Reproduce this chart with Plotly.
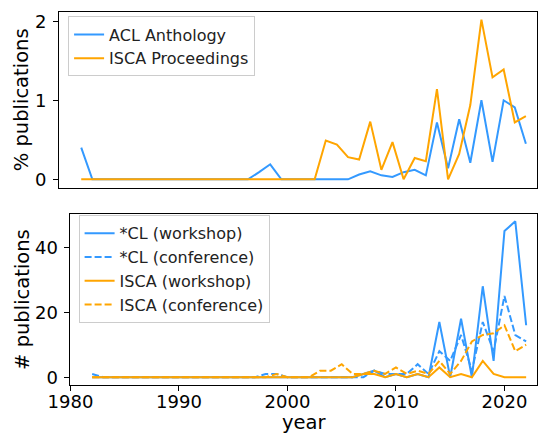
import plotly.graph_objects as go

# ── data ───────────────────────────────────────────────────────
years = list(range(1982, 2023))

# share of publications (%)
acl_pct = [0.40] + [0] * 15 + [0.09, 0.19] + [0] * 7 + [
    0.06, 0.10, 0.05, 0.03, 0.09, 0.12, 0.05, 0.72, 0.14, 0.76,
    0.21, 1.00, 0.22, 1.00, 0.91, 0.45]
isca_pct = [0] * 22 + [
    0.49, 0.44, 0.28, 0.25, 0.73, 0.12, 0.47, 0.0, 0.27, 0.23,
    1.14, 0.0, 0.32, 0.94, 2.02, 1.29, 1.39, 0.72, 0.80]

# number of publications
cl_workshop = [0] * 25 + [1, 2, 0, 1, 0, 1, 0, 17, 0, 18, 0, 28, 5, 45, 48, 16]
cl_conference = [1] + [0] * 15 + [1, 1] + [0] * 8 + [
    2, 1, 1, 1, 4, 1, 8, 5, 13, 2, 17, 8, 25, 13, 11]
isca_workshop = [0] * 25 + [1, 1, 0, 1, 0, 1, 0, 3, 0, 1, 0, 5, 1, 0, 0, 0]
isca_conference = [0] * 17 + [1] + [0] * 3 + [
    2, 2, 4, 1, 1, 2, 1, 3, 1, 2, 1, 5, 1, 5, 11, 13, 13.5, 16, 8, 10]

BLUE = "#3399ff"
ORANGE = "#ffa500"
FONT = "DejaVu Sans"

fig = go.Figure()

# ── top panel: % publications ─────────────────────────────────
fig.add_trace(go.Scatter(x=years, y=acl_pct, mode="lines", name="ACL Anthology",
                         line=dict(color=BLUE, width=2), xaxis="x", yaxis="y",
                         legend="legend"))
fig.add_trace(go.Scatter(x=years, y=isca_pct, mode="lines", name="ISCA Proceedings",
                         line=dict(color=ORANGE, width=2), xaxis="x", yaxis="y",
                         legend="legend"))

# ── bottom panel: # publications ──────────────────────────────
fig.add_trace(go.Scatter(x=years, y=cl_workshop, mode="lines", name="*CL (workshop)",
                         line=dict(color=BLUE, width=2), xaxis="x2", yaxis="y2",
                         legend="legend2"))
fig.add_trace(go.Scatter(x=years, y=cl_conference, mode="lines", name="*CL (conference)",
                         line=dict(color=BLUE, width=2, dash="7px,3px"),
                         xaxis="x2", yaxis="y2", legend="legend2"))
fig.add_trace(go.Scatter(x=years, y=isca_workshop, mode="lines", name="ISCA (workshop)",
                         line=dict(color=ORANGE, width=2), xaxis="x2", yaxis="y2",
                         legend="legend2"))
fig.add_trace(go.Scatter(x=years, y=isca_conference, mode="lines", name="ISCA (conference)",
                         line=dict(color=ORANGE, width=2, dash="7px,3px"),
                         xaxis="x2", yaxis="y2", legend="legend2"))

axis_style = dict(showline=True, linecolor="black", linewidth=1, mirror=True,
                  showgrid=False, zeroline=False, ticks="outside", ticklen=5,
                  tickcolor="black", tickfont=dict(size=18, color="black"))

legend_style = dict(bgcolor="rgba(255,255,255,0.8)", bordercolor="#cccccc",
                    borderwidth=1, font=dict(size=16, color="#222222"),
                    xanchor="left", yanchor="top", itemwidth=30)

title_font = dict(size=19.5, color="black")

fig.update_layout(
    width=538, height=434,
    margin=dict(l=59, r=1, t=12, b=49),
    paper_bgcolor="white", plot_bgcolor="white",
    font=dict(family=FONT, color="black"),
    showlegend=True,
    xaxis=dict(domain=[0, 1], range=[1980, 2023], anchor="y",
               showticklabels=False, **{**axis_style, "ticks": ""}),
    yaxis=dict(domain=[0.529, 1], range=[-0.106, 2.117], anchor="x",
               tickvals=[0, 1, 2], ticklabelstandoff=3,
               title=dict(text="% publications", font=title_font, standoff=1),
               **axis_style),
    xaxis2=dict(domain=[0.024, 1], range=[1980, 2023], anchor="y2",
                tickvals=[1980, 1990, 2000, 2010, 2020], ticklabelstandoff=-5,
                title=dict(text="year", font=title_font, standoff=3),
                **axis_style),
    yaxis2=dict(domain=[0, 0.458], range=[-2.4, 50.2], anchor="x2",
                tickvals=[0, 20, 40], ticklabelstandoff=3,
                title=dict(text="# publications", font=title_font, standoff=0),
                **axis_style),
    legend=dict(x=0.019, y=0.988, **legend_style),
    legend2=dict(x=0.041, y=0.455, **legend_style),
)

fig.write_html("out.html", config={"displayModeBar": False},
               post_script="document.body.style.margin='0';")
